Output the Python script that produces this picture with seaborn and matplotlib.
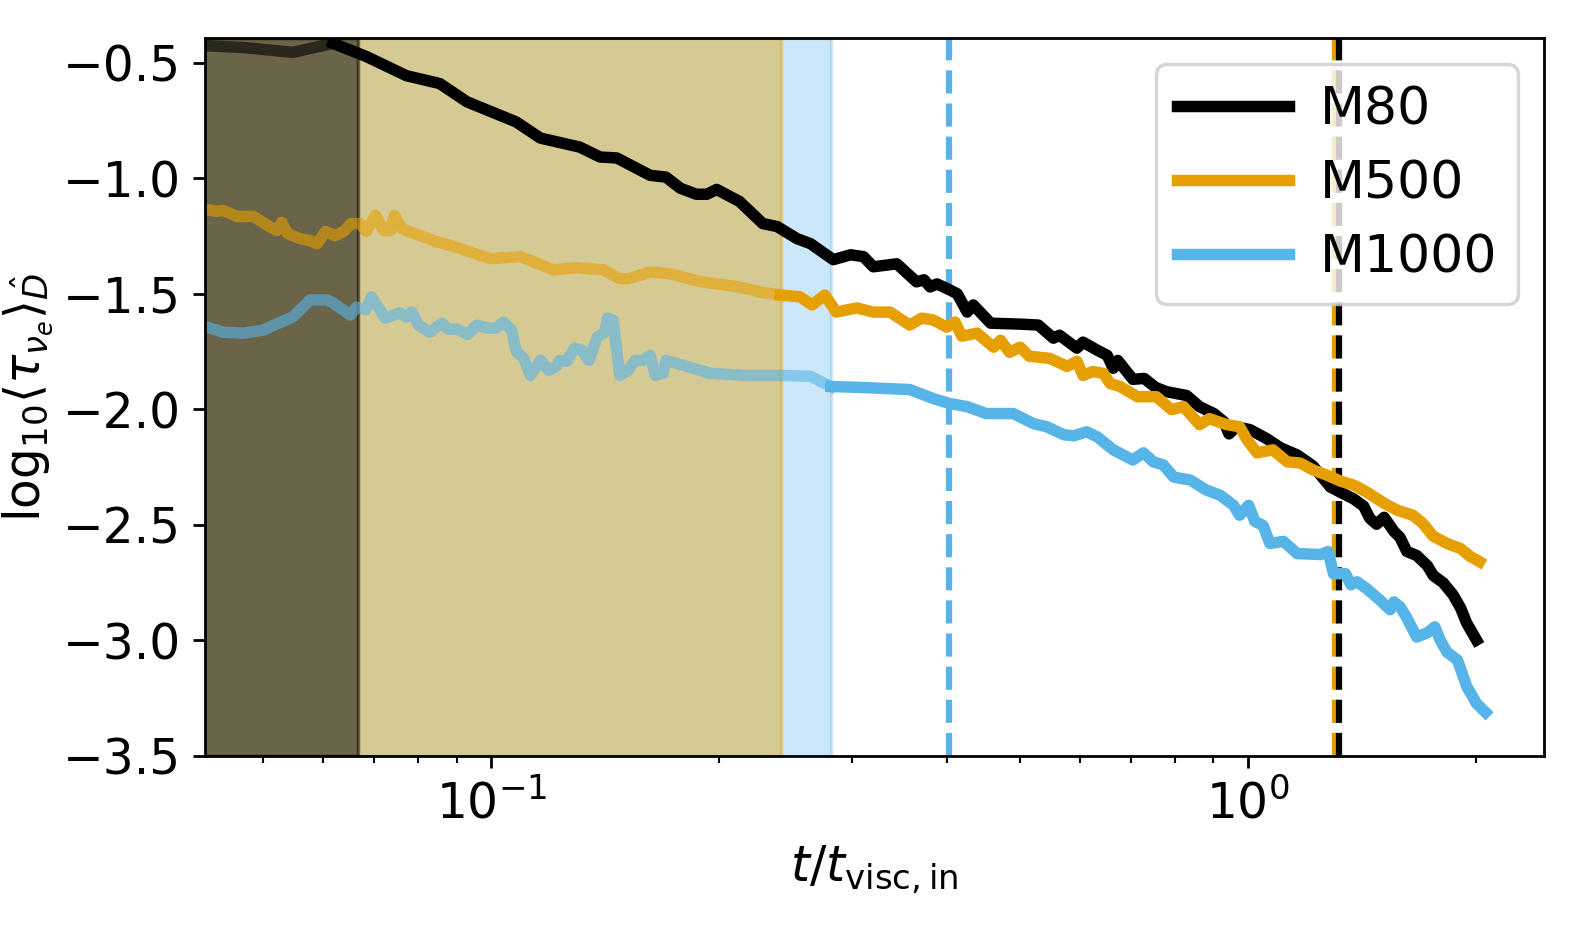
import numpy as np
import pandas as pd
import matplotlib
matplotlib.use("Agg")
import matplotlib.pyplot as plt
import seaborn as sns

# ---------------- data ----------------
models = ["M80", "M500", "M1000"]
colors = ["#000000", "#E69F00", "#56B4E9"]

m80_log_t = [-1.385, -1.327, -1.262, -1.209, -1.165, -1.112, -1.068, -1.032, -0.967, -0.935,
             -0.883, -0.856, -0.834, -0.790, -0.769, -0.750, -0.729, -0.715, -0.702, -0.672,
             -0.641, -0.622, -0.596, -0.578, -0.548, -0.525, -0.508, -0.495, -0.464, -0.438,
             -0.428, -0.420, -0.411, -0.394, -0.384, -0.371, -0.363, -0.340, -0.301, -0.277,
             -0.257, -0.249, -0.226, -0.218, -0.199, -0.186, -0.178, -0.172, -0.152, -0.137,
             -0.122, -0.108, -0.081, -0.064, -0.045, -0.032, -0.025, -0.015, 0.003, 0.025,
             0.043, 0.065, 0.086, 0.109, 0.122, 0.140, 0.153, 0.161, 0.170, 0.180,
             0.193, 0.201, 0.210, 0.223, 0.237, 0.245, 0.258, 0.271, 0.281, 0.289, 0.302]
m80_val = [-0.426, -0.435, -0.456, -0.417, -0.474, -0.557, -0.591, -0.670, -0.757, -0.827,
           -0.866, -0.909, -0.913, -0.988, -0.996, -1.044, -1.070, -1.070, -1.049, -1.101,
           -1.197, -1.210, -1.262, -1.284, -1.353, -1.332, -1.340, -1.384, -1.371, -1.449,
           -1.440, -1.471, -1.458, -1.484, -1.501, -1.580, -1.549, -1.628, -1.632, -1.636,
           -1.693, -1.680, -1.736, -1.710, -1.745, -1.767, -1.823, -1.789, -1.871, -1.867,
           -1.906, -1.924, -1.941, -1.989, -2.019, -2.054, -2.107, -2.076, -2.089, -2.128,
           -2.167, -2.198, -2.246, -2.337, -2.359, -2.389, -2.420, -2.472, -2.498, -2.468,
           -2.529, -2.555, -2.616, -2.633, -2.677, -2.720, -2.751, -2.803, -2.860, -2.925, -2.999]

m500_log_t = [-1.385, -1.363, -1.354, -1.336, -1.314, -1.293, -1.283, -1.277, -1.269, -1.253,
              -1.239, -1.230, -1.219, -1.206, -1.195, -1.185, -1.173, -1.165, -1.153, -1.142,
              -1.133, -1.128, -1.118, -1.109, -1.076, -1.041, -1.001, -0.961, -0.918, -0.887,
              -0.852, -0.830, -0.819, -0.790, -0.763, -0.723, -0.672, -0.645, -0.618, -0.592,
              -0.576, -0.559, -0.544, -0.517, -0.495, -0.473, -0.447, -0.431, -0.416, -0.398,
              -0.387, -0.378, -0.358, -0.336, -0.327, -0.315, -0.301, -0.289, -0.262, -0.239,
              -0.226, -0.218, -0.205, -0.191, -0.182, -0.169, -0.146, -0.121, -0.101, -0.085,
              -0.064, -0.051, -0.028, -0.011, -0.001, 0.012, 0.033, 0.052, 0.069, 0.086,
              0.104, 0.122, 0.140, 0.157, 0.180, 0.197, 0.218, 0.231, 0.245, 0.263,
              0.281, 0.294, 0.306]
m500_val = [-1.131, -1.144, -1.140, -1.166, -1.166, -1.210, -1.227, -1.192, -1.240, -1.262,
            -1.271, -1.284, -1.231, -1.249, -1.231, -1.197, -1.197, -1.231, -1.162, -1.227,
            -1.227, -1.162, -1.218, -1.231, -1.271, -1.305, -1.349, -1.340, -1.397, -1.388,
            -1.397, -1.436, -1.436, -1.406, -1.414, -1.449, -1.471, -1.493, -1.506, -1.514,
            -1.549, -1.506, -1.580, -1.562, -1.580, -1.580, -1.636, -1.606, -1.614, -1.645,
            -1.623, -1.684, -1.671, -1.732, -1.702, -1.754, -1.732, -1.771, -1.780, -1.815,
            -1.793, -1.854, -1.837, -1.845, -1.889, -1.902, -1.946, -1.946, -2.002, -1.989,
            -2.067, -2.041, -2.067, -2.076, -2.133, -2.189, -2.176, -2.228, -2.233, -2.263,
            -2.285, -2.311, -2.329, -2.359, -2.407, -2.437, -2.459, -2.494, -2.550, -2.581,
            -2.603, -2.638, -2.660]

m1000_log_t = [-1.385, -1.354, -1.327, -1.301, -1.287, -1.262, -1.239, -1.217, -1.209, -1.186,
               -1.178, -1.166, -1.158, -1.140, -1.121, -1.112, -1.105, -1.096, -1.081, -1.065,
               -1.057, -1.045, -1.031, -1.019, -1.005, -0.993, -0.984, -0.973, -0.967, -0.957,
               -0.948, -0.935, -0.924, -0.914, -0.910, -0.900, -0.890, -0.880, -0.871, -0.860,
               -0.850, -0.846, -0.839, -0.830, -0.819, -0.810, -0.799, -0.790, -0.783, -0.773,
               -0.769, -0.746, -0.711, -0.662, -0.618, -0.578, -0.551, -0.512, -0.447, -0.416,
               -0.394, -0.371, -0.346, -0.310, -0.283, -0.266, -0.243, -0.230, -0.213, -0.199,
               -0.178, -0.152, -0.138, -0.125, -0.112, -0.098, -0.076, -0.055, -0.037, -0.019,
               -0.011, 0.001, 0.009, 0.020, 0.029, 0.047, 0.065, 0.096, 0.106, 0.113,
               0.129, 0.136, 0.144, 0.157, 0.174, 0.188, 0.193, 0.201, 0.210, 0.223,
               0.237, 0.247, 0.254, 0.263, 0.277, 0.289, 0.302, 0.314]
m1000_val = [-1.636, -1.667, -1.671, -1.658, -1.636, -1.601, -1.527, -1.527, -1.540, -1.593,
             -1.558, -1.571, -1.514, -1.606, -1.584, -1.601, -1.580, -1.636, -1.667, -1.628,
             -1.654, -1.654, -1.676, -1.636, -1.649, -1.649, -1.623, -1.658, -1.749, -1.780,
             -1.854, -1.789, -1.832, -1.815, -1.789, -1.793, -1.736, -1.745, -1.789, -1.689,
             -1.667, -1.606, -1.614, -1.854, -1.832, -1.789, -1.789, -1.767, -1.854, -1.845,
             -1.789, -1.810, -1.845, -1.854, -1.854, -1.858, -1.902, -1.906, -1.915, -1.954,
             -1.976, -1.989, -2.019, -2.019, -2.063, -2.076, -2.111, -2.115, -2.098, -2.120,
             -2.176, -2.220, -2.189, -2.228, -2.241, -2.294, -2.307, -2.350, -2.372, -2.416,
             -2.459, -2.416, -2.485, -2.503, -2.581, -2.572, -2.625, -2.629, -2.616, -2.712,
             -2.712, -2.760, -2.747, -2.777, -2.825, -2.868, -2.834, -2.855, -2.903, -2.986,
             -2.968, -2.942, -2.999, -3.051, -3.086, -3.199, -3.273, -3.312]

# end of the early (faded) part of each curve, end of shaded span, dashed marker
fade_end_t = [0.0618, 0.2410, 0.2812]
span_end_t = [0.0666, 0.2415, 0.2814]
span_alpha = [0.5, 0.4, 0.3]
dash_t = [1.321, 1.305, 0.403]

x_limits = [0.0419, 2.46]
y_limits = [-3.5, -0.395]
y_ticks = [-3.5, -3.0, -2.5, -2.0, -1.5, -1.0, -0.5]

series = {
    "M80": (m80_log_t, m80_val),
    "M500": (m500_log_t, m500_val),
    "M1000": (m1000_log_t, m1000_val),
}

# ---------------- figure ----------------
plt.rcParams["font.family"] = ["DejaVu Sans"]
plt.rcParams["mathtext.fontset"] = "dejavusans"
fs = 14

fig = plt.figure(figsize=(1578 / 250, 947 / 250), dpi=250)
ax = fig.add_axes([0.1301, 0.2019, 0.8482, 0.7577])
ax.set_xscale("log")

# shaded spans (blue first, then orange, then black on top)
for i in [2, 1, 0]:
    ax.axvspan(0.03, span_end_t[i], color=colors[i], alpha=span_alpha[i], lw=1.0, zorder=1)

# dashed reference lines
for i in [2, 1, 0]:
    ax.axvline(dash_t[i], color=colors[i], ls="--", lw=1.8, zorder=1.5)

lw = 3.3
for i, name in enumerate(models):
    lt, v = series[name]
    df = pd.DataFrame({"t": 10.0 ** np.array(lt), "val": v})
    early = df[df["t"] <= fade_end_t[i] * 1.001]
    late = df[df["t"] >= fade_end_t[i] * 0.999]
    sns.lineplot(data=early, x="t", y="val", color=colors[i], alpha=0.6, lw=lw,
                 sort=False, estimator=None, ax=ax, legend=False, zorder=2)
    sns.lineplot(data=late, x="t", y="val", color=colors[i], lw=lw, label=name,
                 sort=False, estimator=None, ax=ax, zorder=2.5)

ax.set_xlim(*x_limits)
ax.set_ylim(*y_limits)
ax.set_yticks(y_ticks)
ax.set_yticklabels([f"{y:.1f}".replace("-", "\u2212") for y in y_ticks])
ax.tick_params(labelsize=fs)
ax.set_xlabel(r"$t/t_{\rm visc,in}$", fontsize=fs)
ax.set_ylabel(r"$\mathrm{log}_{10}\langle\tau_{\nu_e}\rangle_{\hat{D}}$", fontsize=fs, labelpad=2)

leg = ax.legend(loc="upper right", fontsize=15, handlelength=2.15,
                handletextpad=0.58, labelspacing=0.46)

fig.savefig("out.png", dpi=250)
